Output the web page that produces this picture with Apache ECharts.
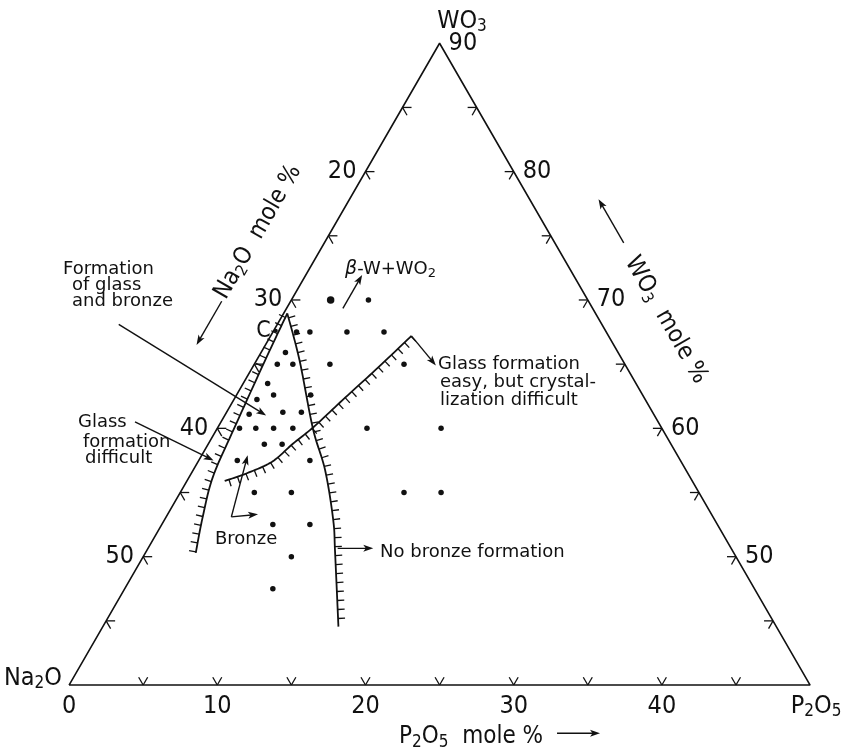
<!DOCTYPE html>
<html>
<head>
<meta charset="utf-8">
<script src="https://cdn.jsdelivr.net/npm/echarts/dist/echarts.min.js"></script>
<style>
  html, body { margin: 0; padding: 0; background: #fff; }
  #chart { width: 843px; height: 755px; }
</style>
</head>
<body>
<div id="chart"></div>
<script>
const S3 = Math.sqrt(3) / 2;
// a composition is [P2O5, WO3] in mole %, Na2O is the rest to 100
// the drawn triangle is the part with WO3 >= 40 and Na2O >= 10
function tern(p, w) { return [p + (w - 40) / 2, (w - 40) * S3]; }

const corners = [[0, 40], [50, 40], [0, 90], [0, 40]];
const samples = [
  [5.2, 70],
  [1.6, 67.5], [2.5, 67.5], [5, 67.5], [7.5, 67.5],
  [1.65, 65.9],
  [1.55, 65], [2.6, 65], [5.1, 65], [10.1, 65],
  [1.65, 63.5],
  [2.5, 62.6], [5, 62.6],
  [1.55, 62.25],
  [3.8, 61.25], [5.05, 61.25],
  [1.6, 61.1],
  [1.5, 60], [2.6, 60], [3.8, 60], [5.1, 60], [10.1, 60], [15.1, 60],
  [3.8, 58.75], [5, 58.75],
  [2.6, 57.5], [7.5, 57.5],
  [5, 55], [7.5, 55], [15.1, 55], [17.6, 55],
  [7.5, 52.5], [10, 52.5],
  [10, 50],
  [10, 47.5]
];
const sampleLarge = [[2.65, 70]];
const pointC = [[0.15, 67.6]];
const glassLimit = [[0.25, 68.95], [0.55, 65.6], [1.15, 59.9], [1.6, 56.2], [2.5, 53.0], [3.4, 50.3]];
const bronzeLimit = [[0.25, 68.95], [2.9, 65.3], [6.45, 60.0], [8.9, 56.75], [11.4, 52.85], [12.8, 50.3], [15.9, 44.55]];
const crystalLimit = [[2.55, 55.9], [3.75, 56.5], [5.0, 57.4], [5.7, 58.8], [6.45, 60.1], [7.35, 62.2], [8.4, 64.55], [9.5, 67.2]];

// pointer arrows, [from, to]
const pointers = [
  [[-10.7, 68.1], [2.8, 61.0]],
  [[-5.8, 60.5], [1.0, 57.5]],
  [[3.8, 69.35], [3.8, 71.95]],
  [[9.5, 67.2], [12.3, 64.9]],
  [[4.4, 53.1], [3.1, 57.9]],
  [[4.4, 53.1], [6.1, 53.3]],
  [[12.8, 50.65], [15.2, 50.65]],
  [[-4.65, 69.9], [-4.65, 66.5]],
  [[20.2, 74.45], [16.8, 77.85]],
  [[34.8, 36.25], [37.7, 36.25]]
];

const na2oLabels = [20, 30, 40, 50];
const wo3Labels = [90, 80, 70, 60, 50];
const p2o5Labels = [0, 10, 20, 30, 40];
const minorSteps = [5, 10, 15, 20, 25, 30, 35, 40, 45];

const NUM_FONT = "'Liberation Sans Narrow', 'DejaVu Sans Condensed', sans-serif";
const NOTE_FONT = "'DejaVu Sans', sans-serif";
const INK = '#111';

// side 0 = left (Na2O), 1 = right (WO3), 2 = base (P2O5)
const tickData = [];
minorSteps.forEach(m => {
  tickData.push([...tern(0, 90 - m), 0]);
  tickData.push([...tern(50 - m, 40 + m), 1]);
  tickData.push([...tern(m, 40), 2]);
});
const labelData = [];
na2oLabels.forEach(n => labelData.push([...tern(0, 100 - n), 0, n]));
wo3Labels.forEach(w => labelData.push([...tern(90 - w, w), 1, w]));
p2o5Labels.forEach(p => labelData.push([...tern(p, 40), 2, p]));

const tickDirs = [
  [[1, 0], [0.5, S3]],
  [[-1, 0], [-0.5, S3]],
  [[-0.5, -S3], [0.5, -S3]]
];

function smoothPath(pts) {
  const out = [];
  const n = pts.length;
  for (let i = 0; i < n - 1; i++) {
    const p0 = pts[Math.max(i - 1, 0)], p1 = pts[i], p2 = pts[i + 1], p3 = pts[Math.min(i + 2, n - 1)];
    for (let s = 0; s < 12; s++) {
      const t = s / 12, t2 = t * t, t3 = t2 * t;
      out.push([0, 1].map(k => 0.5 * (2 * p1[k] + (p2[k] - p0[k]) * t +
        (2 * p0[k] - 5 * p1[k] + 4 * p2[k] - p3[k]) * t2 +
        (3 * p1[k] - p0[k] - 3 * p2[k] + p3[k]) * t3)));
    }
  }
  out.push(pts[n - 1]);
  return out;
}

function hatched(path, side, gap, len) {
  const items = [{ type: 'polyline', shape: { points: path }, style: { stroke: INK, lineWidth: 1.8, fill: null } }];
  let next = gap / 2, run = 0;
  for (let i = 1; i < path.length; i++) {
    const [x0, y0] = path[i - 1], [x1, y1] = path[i];
    const d = Math.hypot(x1 - x0, y1 - y0);
    if (!d) continue;
    const tx = (x1 - x0) / d, ty = (y1 - y0) / d;
    while (next <= run + d) {
      const f = (next - run) / d;
      const x = x0 + (x1 - x0) * f, y = y0 + (y1 - y0) * f;
      items.push({ type: 'line', shape: { x1: x, y1: y, x2: x - ty * len * side, y2: y + tx * len * side },
        style: { stroke: INK, lineWidth: 1.3 } });
      next += gap;
    }
    run += d;
  }
  return items;
}

function curveSeries(points, side) {
  const data = points.map(([p, w]) => tern(p, w));
  return {
    type: 'custom', coordinateSystem: 'cartesian2d', data: data, silent: true, z: 3,
    renderItem: (params, api) => {
      if (params.dataIndex !== 0) return null;
      const px = data.map(d => api.coord(d));
      return { type: 'group', children: hatched(smoothPath(px), side, 9, 7) };
    }
  };
}

const sub = (size, drop) => ({ fontSize: size, fontFamily: NUM_FONT, fill: INK, padding: [drop, 0, 0, 0] });
const big = size => ({ fontSize: size, fontFamily: NUM_FONT, fill: INK });

function note(text, x, y) {
  return { type: 'text', x: x, y: y, style: { text: text, fontSize: 18, fontFamily: NOTE_FONT, fill: INK, align: 'left', verticalAlign: 'middle' } };
}

const chart = echarts.init(document.getElementById('chart'));
chart.setOption({
  animation: false,
  backgroundColor: '#fff',
  grid: { left: 0, right: 0, top: 0, bottom: 0 },
  xAxis: { type: 'value', min: -4.66, max: 52.22, show: false },
  yAxis: { type: 'value', min: -4.72, max: 46.22, show: false },
  series: [
    {
      type: 'line', data: corners.map(([p, w]) => tern(p, w)), symbol: 'none', clip: false,
      lineStyle: { color: INK, width: 1.6 }, silent: true
    },
    {
      type: 'custom', coordinateSystem: 'cartesian2d', data: tickData, silent: true,
      renderItem: (params, api) => {
        const pt = api.coord([api.value(0), api.value(1)]);
        const dirs = tickDirs[api.value(2)];
        return {
          type: 'group', children: dirs.map(d => ({
            type: 'line', shape: { x1: pt[0], y1: pt[1], x2: pt[0] + d[0] * 9, y2: pt[1] + d[1] * 9 },
            style: { stroke: INK, lineWidth: 1.3 }
          }))
        };
      }
    },
    {
      type: 'custom', coordinateSystem: 'cartesian2d', data: labelData, silent: true,
      renderItem: (params, api) => {
        const pt = api.coord([api.value(0), api.value(1)]);
        const side = api.value(2);
        const off = [[-9, 0, 'right', 'middle'], [9, 0, 'left', 'middle'], [0, 9, 'center', 'top']][side];
        return {
          type: 'text', x: pt[0] + off[0], y: pt[1] + off[1],
          style: { text: String(api.value(3)), fontSize: 25, fontFamily: NUM_FONT, fill: INK, align: off[2], verticalAlign: off[3] }
        };
      }
    },
    curveSeries(glassLimit, 1),
    curveSeries(bronzeLimit, -1),
    curveSeries(crystalLimit, 1),
    {
      type: 'scatter', data: samples.map(([p, w]) => tern(p, w)), symbolSize: 5.5,
      itemStyle: { color: INK, opacity: 1 }, silent: true, z: 4
    },
    {
      type: 'scatter', data: sampleLarge.map(([p, w]) => tern(p, w)), symbolSize: 7.5,
      itemStyle: { color: INK, opacity: 1 }, silent: true, z: 4
    },
    {
      type: 'scatter', data: pointC.map(([p, w]) => tern(p, w)), symbolSize: 4,
      itemStyle: { color: INK, opacity: 1 }, silent: true, z: 4,
      label: { show: true, formatter: 'C', position: 'left', distance: 3, fontSize: 23, fontFamily: NUM_FONT, color: INK, opacity: 1 }
    },
    {
      type: 'custom', coordinateSystem: 'cartesian2d', silent: true, z: 4,
      data: pointers.map(([a, b]) => [...tern(a[0], a[1]), ...tern(b[0], b[1])]),
      renderItem: (params, api) => {
        const a = api.coord([api.value(0), api.value(1)]);
        const b = api.coord([api.value(2), api.value(3)]);
        const d = Math.hypot(b[0] - a[0], b[1] - a[1]);
        const ux = (b[0] - a[0]) / d, uy = (b[1] - a[1]) / d;
        const hl = 10, hw = 3.5;
        return {
          type: 'group', children: [
            { type: 'line', shape: { x1: a[0], y1: a[1], x2: b[0] - ux * 4, y2: b[1] - uy * 4 }, style: { stroke: INK, lineWidth: 1.4 } },
            { type: 'polygon', shape: { points: [b, [b[0] - ux * hl - uy * hw, b[1] - uy * hl + ux * hw], [b[0] - ux * hl * 0.75, b[1] - uy * hl * 0.75], [b[0] - ux * hl + uy * hw, b[1] - uy * hl - ux * hw]] }, style: { fill: INK } }
          ]
        };
      }
    }
  ],
  graphic: {
    elements: [
      { type: 'text', x: 462, y: 21, style: { text: '{a|WO}{s|3}', align: 'center', verticalAlign: 'middle', rich: { a: big(25), s: sub(17, 12) } } },
      { type: 'text', x: 33, y: 678, style: { text: '{a|Na}{s|2}{a|O}', align: 'center', verticalAlign: 'middle', rich: { a: big(25), s: sub(17, 12) } } },
      { type: 'text', x: 816, y: 706, style: { text: '{a|P}{s|2}{a|O}{s|5}', align: 'center', verticalAlign: 'middle', rich: { a: big(25), s: sub(17, 12) } } },
      { type: 'text', x: 471, y: 737, style: { text: '{a|P}{s|2}{a|O}{s|5}{a|  mole %}', align: 'center', verticalAlign: 'middle', rich: { a: big(24), s: sub(17, 12) } } },
      { type: 'text', x: 258, y: 232, rotation: Math.PI / 3, style: { text: '{a|Na}{s|2}{a|O  mole %}', align: 'center', verticalAlign: 'middle', rich: { a: big(24), s: sub(16, 12) } } },
      { type: 'text', x: 666, y: 320, rotation: -Math.PI / 3, style: { text: '{a|WO}{s|3}{a|  mole %}', align: 'center', verticalAlign: 'middle', rich: { a: big(24), s: sub(16, 12) } } },
      note('Formation', 63, 269),
      note('of glass', 72, 285),
      note('and bronze', 72, 301),
      note('Glass', 78, 422),
      note('formation', 83, 442),
      note('difficult', 85, 458),
      { type: 'text', x: 345, y: 269, style: { text: '{b|β}{a|-W+WO}{s|2}', verticalAlign: 'middle', rich: {
        b: { fontSize: 19, fontFamily: NOTE_FONT, fontStyle: 'italic', fill: INK },
        a: { fontSize: 18, fontFamily: NOTE_FONT, fill: INK },
        s: { fontSize: 13, fontFamily: NOTE_FONT, fill: INK, padding: [10, 0, 0, 0] } } } },
      note('Glass formation', 438, 364),
      note('easy, but crystal-', 440, 382),
      note('lization difficult', 440, 400),
      note('Bronze', 215, 539),
      note('No bronze formation', 380, 552)
    ]
  }
});
</script>
</body>
</html>
